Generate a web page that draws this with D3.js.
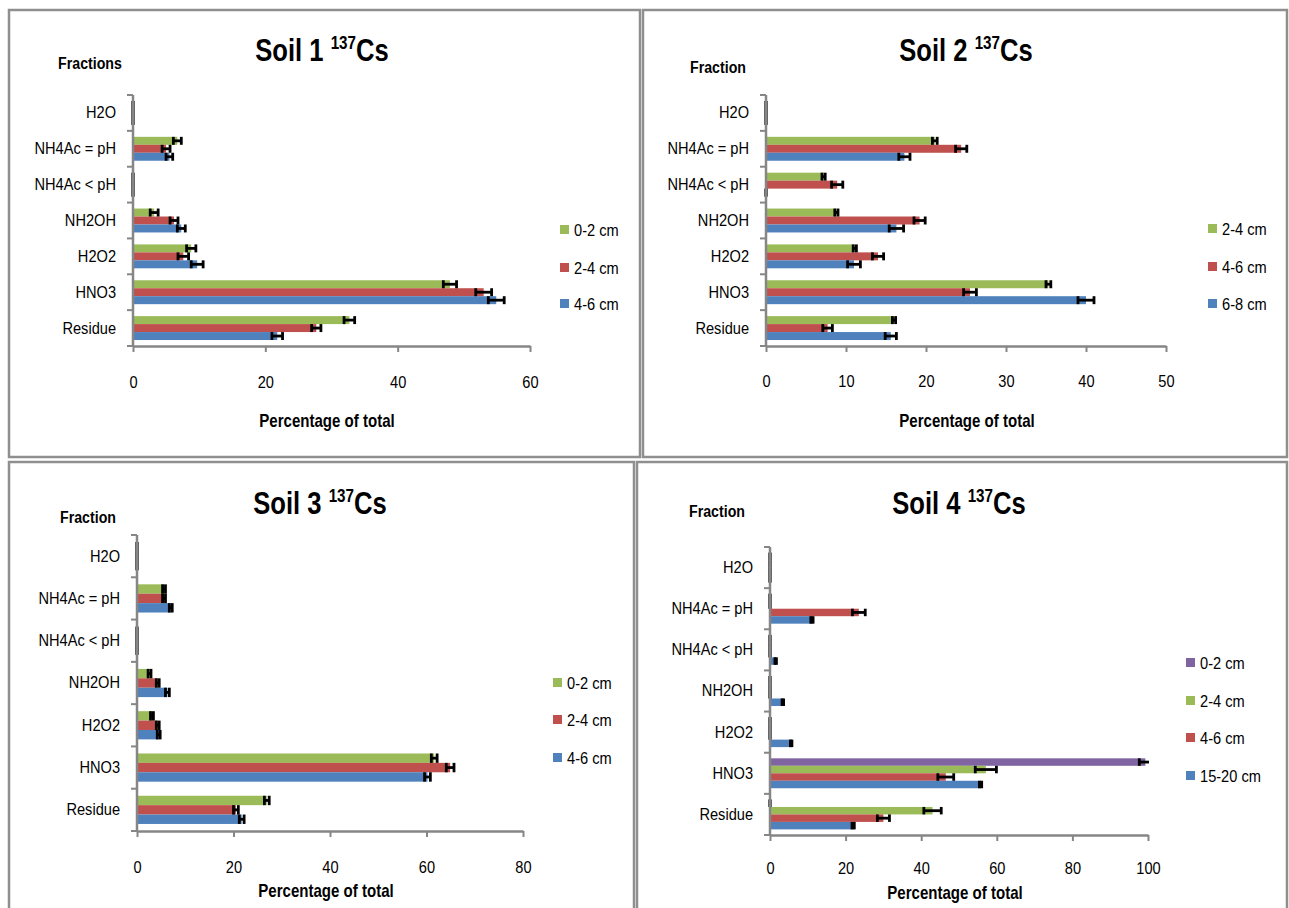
<!DOCTYPE html>
<html><head><meta charset="utf-8">
<script src="https://cdn.jsdelivr.net/npm/d3@7"></script>
<style>
html,body{margin:0;padding:0;background:#fff;}
svg{display:block;}
text{font-family:"Liberation Sans",Arial,sans-serif;fill:#000;}
</style></head>
<body>
<svg id="chart" width="1289" height="908"></svg>
<script>
// ---------- DATA ----------
const fractions = ["H2O", "NH4Ac = pH", "NH4Ac < pH", "NH2OH", "H2O2", "HNO3", "Residue"];

const soil1Depths = ["0-2 cm", "2-4 cm", "4-6 cm"];
const soil1Values = [
  [0, 6.7, 0, 3.2, 8.8, 47.9, 32.7],
  [0, 5.0, 0, 6.2, 7.6, 53.0, 27.7],
  [0, 5.5, 0, 7.3, 9.7, 54.9, 21.8]
];
const soil1Errors = [
  [0, 0.6, 0, 0.6, 0.7, 1.0, 0.8],
  [0, 0.6, 0, 0.6, 0.8, 1.2, 0.7],
  [0, 0.5, 0, 0.6, 0.9, 1.2, 0.8]
];
const soil1Ticks = [0, 20, 40, 60];

const soil2Depths = ["2-4 cm", "4-6 cm", "6-8 cm"];
const soil2Values = [
  [0, 21.1, 7.2, 8.8, 11.1, 35.3, 16.0],
  [0, 24.4, 8.9, 19.2, 14.0, 25.5, 7.7],
  [0, 17.3, 0, 16.3, 11.0, 40.0, 15.6]
];
const soil2Errors = [
  [0, 0.3, 0.2, 0.2, 0.2, 0.3, 0.2],
  [0, 0.7, 0.7, 0.7, 0.7, 0.8, 0.6],
  [0, 0.7, 0, 0.9, 0.8, 1.0, 0.7]
];
const soil2Ticks = [0, 10, 20, 30, 40, 50];

const soil3Depths = ["0-2 cm", "2-4 cm", "4-6 cm"];
const soil3Values = [
  [0, 5.6, 0, 2.6, 3.1, 61.6, 26.9],
  [0, 5.6, 0, 4.3, 4.3, 64.9, 20.5],
  [0, 7.0, 0, 6.3, 4.5, 60.2, 21.7]
];
const soil3Errors = [
  [0, 0.3, 0, 0.3, 0.3, 0.6, 0.5],
  [0, 0.3, 0, 0.3, 0.3, 0.8, 0.5],
  [0, 0.3, 0, 0.4, 0.3, 0.6, 0.5]
];
const soil3Ticks = [0, 20, 40, 60, 80];

const soil4Depths = ["0-2 cm", "2-4 cm", "4-6 cm", "15-20 cm"];
const soil4Values = [
  [0, 0, 0, 0, 0, 99.3, 0],
  [0, 0, 0, 0, 0, 57.1, 43.0],
  [0, 23.5, 0, 0, 0, 46.5, 30.0],
  [0, 11.1, 1.5, 3.4, 5.6, 55.7, 22.0]
];
const soil4Errors = [
  [0, 0, 0, 0, 0, 1.6, 0],
  [0, 0, 0, 0, 0, 2.8, 2.3],
  [0, 1.7, 0, 0, 0, 2.1, 1.6],
  [0, 0.3, 0.2, 0.2, 0.2, 0.3, 0.3]
];
const soil4Ticks = [0, 20, 40, 60, 80, 100];

const colors3 = ["#9BBB59", "#C0504D", "#4F81BD"];
const colors4 = ["#8064A2", "#9BBB59", "#C0504D", "#4F81BD"];

// ---------- LAYOUT ----------
const panels = [
  {frame:[9,10,631,447], soil:"Soil 1", yLabel:"Fractions", depths:soil1Depths, values:soil1Values, errors:soil1Errors, ticks:soil1Ticks,
   colors:colors3, x0:133, x1:530, y0:95, y1:346, titleX:322, titleY:61, yLabX:90, yLabY:69, tickY:382, xLabX:327, xLabY:421,
   legX:560, legY:[230,268,304]},
  {frame:[643,10,644,447], soil:"Soil 2", yLabel:"Fraction", depths:soil2Depths, values:soil2Values, errors:soil2Errors, ticks:soil2Ticks,
   colors:colors3, x0:766, x1:1166, y0:95, y1:346, titleX:966, titleY:61, yLabX:718, yLabY:73, tickY:381, xLabX:967, xLabY:421,
   legX:1208, legY:[229,267,304]},
  {frame:[9,462,625,450], soil:"Soil 3", yLabel:"Fraction", depths:soil3Depths, values:soil3Values, errors:soil3Errors, ticks:soil3Ticks,
   colors:colors3, x0:137, x1:523, y0:535, y1:831, titleX:320, titleY:514, yLabX:88, yLabY:523, tickY:867, xLabX:326, xLabY:891,
   legX:553, legY:[683,720,758]},
  {frame:[637,462,650,450], soil:"Soil 4", yLabel:"Fraction", depths:soil4Depths, values:soil4Values, errors:soil4Errors, ticks:soil4Ticks,
   colors:colors4, x0:770, x1:1148, y0:547, y1:835, titleX:959, titleY:514, yLabX:717, yLabY:517, tickY:868, xLabX:955, xLabY:893,
   legX:1186, legY:[663,701,738,776]}
];

const SX = 0.86; // horizontal condensing for text (narrow Calibri-like look)
function condense(sel, sx) {
  sel.each(function () {
    const el = d3.select(this);
    const xv = +(el.attr("x") || 0);
    el.attr("x", xv / sx).attr("transform", `scale(${sx},1)`);
  });
}
// place condensed text at absolute (x,y)
function ctext(g, x, y, sx) {
  return g.append("g").attr("transform", `translate(${x},${y}) scale(${sx},1)`).append("text");
}

const svg = d3.select("#chart");
const axisColor = "#868686";

panels.forEach(p => {
  const g = svg.append("g");
  g.append("rect").attr("x", p.frame[0]).attr("y", p.frame[1]).attr("width", p.frame[2]).attr("height", p.frame[3])
    .attr("fill", "none").attr("stroke", "#8f8f8f").attr("stroke-width", 2.5);

  const xMax = p.ticks[p.ticks.length - 1];
  const x = d3.scaleLinear().domain([0, xMax]).range([p.x0, p.x1]);
  const y = d3.scaleBand().domain(fractions).range([p.y0, p.y1]).paddingInner(0).paddingOuter(0);
  const n = p.depths.length;
  const bw = y.bandwidth() / (n + 1.5);
  const ys = d3.scaleBand().domain(d3.range(n)).range([0.75 * bw, 0.75 * bw + n * bw]).padding(0);

  // title
  const t = ctext(g, p.titleX, p.titleY, 0.8).attr("text-anchor", "middle")
    .style("font-size", "32px").style("font-weight", "bold");
  t.append("tspan").text(p.soil + " ");
  t.append("tspan").text("137").style("font-size", "19px").attr("dy", -12);
  t.append("tspan").text("Cs").attr("dy", 12);

  // y label
  ctext(g, p.yLabX, p.yLabY, SX).attr("text-anchor", "middle")
    .style("font-size", "16.5px").style("font-weight", "bold").text(p.yLabel);

  // bars
  const data = [];
  p.values.forEach((row, si) => row.forEach((v, fi) => data.push({si, f: fractions[fi], v, e: p.errors[si][fi]})));
  g.selectAll("rect.bar").data(data.filter(d => d.v > 0)).join("rect").attr("class", "bar")
    .attr("x", x(0)).attr("y", d => y(d.f) + ys(d.si))
    .attr("width", d => Math.min(x(d.v), p.x1) - x(0)).attr("height", ys.bandwidth())
    .attr("fill", d => p.colors[d.si]);

  // error bars
  const eb = g.selectAll("g.err").data(data).join("g").attr("class", "err")
    .attr("stroke", "#000").attr("stroke-width", 2.8).attr("fill", "none");
  const cy = d => y(d.f) + ys(d.si) + ys.bandwidth() / 2;
  const lo = d => x(Math.max(0, d.v - d.e));
  const hi = d => Math.min(x(d.v + d.e), p.x1 + 1);
  const ch = ys.bandwidth() / 2;
  eb.append("line").attr("x1", lo).attr("x2", hi).attr("y1", cy).attr("y2", cy);
  eb.append("line").attr("x1", lo).attr("x2", lo).attr("y1", d => cy(d) - ch).attr("y2", d => cy(d) + ch);
  eb.filter(d => x(d.v + d.e) <= p.x1 + 1).append("line").attr("x1", hi).attr("x2", hi)
    .attr("y1", d => cy(d) - ch).attr("y2", d => cy(d) + ch);

  // x axis
  const xa = g.append("g").attr("transform", `translate(0,${p.y1})`)
    .call(d3.axisBottom(x).tickValues(p.ticks).tickSize(6).tickSizeOuter(0).tickFormat(d3.format("d")));
  xa.select(".domain").attr("stroke", axisColor).attr("stroke-width", 2.5);
  xa.selectAll(".tick line").attr("stroke", axisColor).attr("stroke-width", 2);
  xa.selectAll(".tick text").attr("y", p.tickY - p.y1).attr("dy", "0.35em").attr("fill", "#000")
    .style("font-size", "17px").style("font-family", "'Liberation Sans',Arial,sans-serif");
  condense(xa.selectAll(".tick text"), SX);

  // y axis
  const ya = g.append("g").attr("transform", `translate(${p.x0},0)`)
    .call(d3.axisLeft(y).tickSize(0).tickPadding(17));
  ya.select(".domain").attr("stroke", axisColor).attr("stroke-width", 2.5).attr("d", `M0,${p.y0}V${p.y1}`);
  ya.selectAll(".tick text").attr("fill", "#000").style("font-size", "17px").style("font-family", "'Liberation Sans',Arial,sans-serif");
  condense(ya.selectAll(".tick text"), SX);
  const bounds = fractions.map(f => y(f)).concat([p.y1]);
  g.selectAll("line.ytick").data(bounds).join("line").attr("class", "ytick")
    .attr("x1", p.x0 - 6).attr("x2", p.x0).attr("y1", d => d).attr("y2", d => d)
    .attr("stroke", axisColor).attr("stroke-width", 2);

  // x label
  ctext(g, p.xLabX, p.xLabY, SX).attr("dy", "0.35em").attr("text-anchor", "middle")
    .style("font-size", "17.5px").style("font-weight", "bold").text("Percentage of total");

  // legend
  const lg = g.selectAll("g.leg").data(p.depths).join("g").attr("class", "leg")
    .attr("transform", (d, i) => `translate(${p.legX},${p.legY[i]})`);
  lg.append("rect").attr("x", 0).attr("y", -5).attr("width", 9).attr("height", 9).attr("fill", (d, i) => p.colors[i]);
  lg.append("g").attr("transform", `translate(14,0) scale(${SX},1)`).append("text")
    .attr("dy", "0.35em").style("font-size", "17px").text(d => d);
});
</script>
</body></html>
